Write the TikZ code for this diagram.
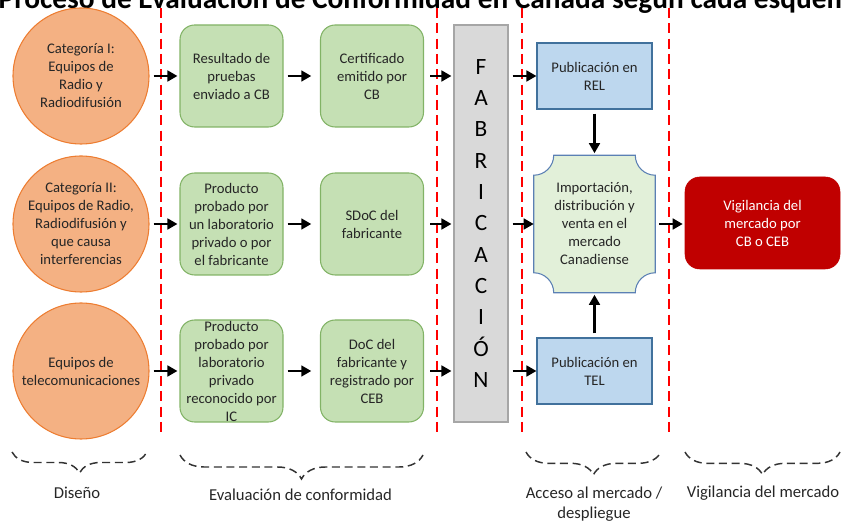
\documentclass[tikz,border=0pt]{standalone}
\usepackage{fontspec}
\setmainfont{Carlito}
\usetikzlibrary{arrows.meta,decorations.pathreplacing,backgrounds}
\definecolor{naranja}{HTML}{F4B183}
\definecolor{naranjaborde}{HTML}{ED7D31}
\definecolor{verde}{HTML}{C5E0B4}
\definecolor{verdeborde}{HTML}{82B366}
\definecolor{azul}{HTML}{BDD7EE}
\definecolor{azulborde}{HTML}{41719C}
\definecolor{verdeclaro}{HTML}{E2F0D9}
\definecolor{plaqueborde}{HTML}{5B80B4}
\definecolor{gris}{HTML}{D9D9D9}
\definecolor{grisborde}{HTML}{A6A6A6}
\definecolor{rojo}{HTML}{C00000}
\definecolor{texto}{HTML}{262626}
\begin{document}
\begin{tikzpicture}[x=0.75pt, y=-0.75pt,
  every node/.style={font=\fontsize{11}{13.5}\selectfont, text=texto, align=center},
  cat/.style={circle, draw=naranjaborde, fill=naranja, line width=0.8pt, minimum size=102pt, inner sep=0pt},
  paso/.style={rectangle, rounded corners=11pt, draw=verdeborde, fill=verde, line width=0.8pt, minimum width=77.25pt, minimum height=76.5pt, inner sep=0pt},
  pub/.style={rectangle, draw=azulborde, fill=azul, line width=0.8pt, minimum width=86.25pt, minimum height=49.5pt},
  fab/.style={rectangle, draw=grisborde, fill=gris, line width=0.8pt, minimum width=40.5pt, minimum height=297.75pt, font=\fontsize{17.5}{23.5}\selectfont, text=black},
  plaque/.style={rectangle, minimum width=90.75pt, minimum height=102.75pt, inner sep=0pt},
  vig/.style={rectangle, rounded corners=11pt, draw=rojo, fill=rojo, minimum width=116.25pt, minimum height=69pt, text=white},
  flecha/.style={-{Triangle[length=7.5pt,width=8pt]}, line width=2.2pt, black, shorten <=3pt, shorten >=1.5pt},
  limite/.style={red, line width=1.3pt, dash pattern=on 7.5pt off 4pt},
  llave/.style={decorate, decoration={brace, mirror, amplitude=#1}, line width=1.1pt, dash pattern=on 6pt off 3.5pt, black!80},
  etiqueta/.style={font=\fontsize{12.5}{15}\selectfont},
  titulo/.style={font=\fontsize{22}{26}\selectfont\bfseries, text=black, anchor=base west, align=left}]
  \useasboundingbox (0,0) rectangle (843,523);
  \clip (0,0) rectangle (843,523);
  % Titulo (cortado arriba)
  \node[titulo] (titulo) at (-6,9) {Proceso de Evaluación de Conformidad en Canadá según cada esquema};
  % Limites de etapas
  \foreach \x in {161,437,522,669}
    \draw[limite] (\x,8) -- (\x,437);
  % Diseño
  \node[cat] (cat1) at (81,76) {Categoría I:\\Equipos de\\Radio y\\Radiodifusión};
  \node[cat] (cat2) at (81,224) {Categoría II:\\Equipos de Radio,\\Radiodifusión y\\que causa\\interferencias};
  \node[cat] (cat3) at (81,371) {Equipos de\\telecomunicaciones};
  % Evaluación de conformidad
  \node[paso] (res1) at (231.5,76) {Resultado de\\pruebas\\enviado a CB};
  \node[paso] (cert1) at (372,76) {Certificado\\emitido por\\CB};
  \node[paso] (prod2) at (231.5,224) {Producto\\probado por\\un laboratorio\\privado o por\\el fabricante};
  \node[paso] (sdoc2) at (372,224) {SDoC del\\fabricante};
  \node[paso] (prod3) at (231.5,371) {Producto\\probado por\\laboratorio\\privado\\reconocido por\\IC};
  \node[paso] (doc3) at (372,371) {DoC del\\fabricante y\\registrado por\\CEB};
  % Fabricación
  \node[fab] (fab) at (481,223.5) {F\\A\\B\\R\\I\\C\\A\\C\\I\\Ó\\N};
  % Acceso al mercado
  \node[pub] (rel) at (594.5,76) {Publicación en\\REL};
  \node[pub] (tel) at (594.5,371) {Publicación en\\TEL};
  \node[plaque] (venta) at (594.5,224) {Importación,\\distribución y\\venta en el\\mercado\\Canadiense};
  \begin{scope}[on background layer]
    \draw[draw=plaqueborde, fill=verdeclaro, line width=0.8pt]
      ([xshift=15pt]venta.north west) -- ([xshift=-15pt]venta.north east)
      arc[start angle=180, end angle=270, radius=15pt]
      -- ([yshift=15pt]venta.south east)
      arc[start angle=90, end angle=180, radius=15pt]
      -- ([xshift=15pt]venta.south west)
      arc[start angle=0, end angle=90, radius=15pt]
      -- ([yshift=-15pt]venta.north west)
      arc[start angle=270, end angle=360, radius=15pt] -- cycle;
  \end{scope}
  % Vigilancia
  \node[vig] (vig) at (762.5,223) {Vigilancia del\\mercado por\\CB o CEB};
  % Flechas
  \draw[flecha] (cat1) -- (res1);
  \draw[flecha] (cat2) -- (prod2);
  \draw[flecha] (cat3) -- (prod3);
  \draw[flecha, shorten >=6.5pt] (res1) -- (cert1);
  \draw[flecha, shorten >=6.5pt] (prod2) -- (sdoc2);
  \draw[flecha, shorten >=6.5pt] (prod3) -- (doc3);
  \draw[flecha, shorten <=4.5pt] (cert1) -- (fab.west |- cert1);
  \draw[flecha, shorten <=4.5pt] (sdoc2) -- (fab.west |- sdoc2);
  \draw[flecha, shorten <=4.5pt] (doc3) -- (fab.west |- doc3);
  \draw[flecha, shorten >=0pt] (fab.east |- rel) -- (rel);
  \draw[flecha, shorten >=0pt] (fab.east |- venta) -- (venta);
  \draw[flecha, shorten >=0pt] (fab.east |- tel) -- (tel);
  \draw[flecha] (rel) -- (venta);
  \draw[flecha] (tel) -- (venta);
  \draw[flecha] (venta.east) -- (vig.west |- venta.east);
  % Llaves de etapas
  \draw[llave=15.75pt] (12,452) -- (147,452);
  \draw[llave=18pt] (180,455) -- (423,455);
  \draw[llave=17pt] (526,452) -- (661,452);
  \draw[llave=17pt] (685,452) -- (840,452);
  \node[etiqueta] (diseno) at (77,493) {Diseño};
  \node[etiqueta] (evaluacion) at (300.5,495) {Evaluación de conformidad};
  \node[etiqueta] (acceso) at (594,504) {Acceso al mercado /\\despliegue};
  \node[etiqueta] (vigilancia) at (763,493) {Vigilancia del mercado};
\end{tikzpicture}
\end{document}
